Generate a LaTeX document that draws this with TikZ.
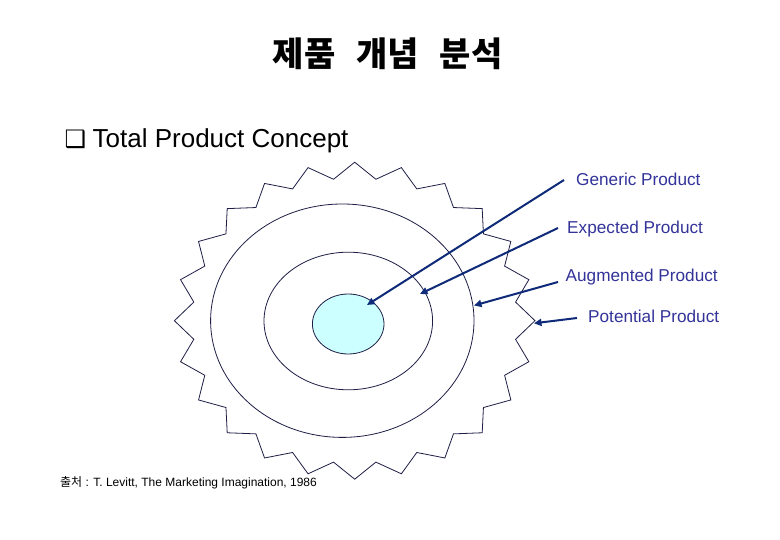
\documentclass[tikz,border=0pt]{standalone}
\usepackage{fontspec}
\setmainfont{Liberation Sans}
\newfontfamily\kr{Noto Sans CJK KR}
\newfontfamily\dejavu{DejaVu Sans}
\usetikzlibrary{arrows.meta}
\definecolor{linec}{RGB}{30,30,70}
\definecolor{arrowc}{RGB}{14,42,120}
\definecolor{labelc}{RGB}{51,51,153}
\definecolor{corefill}{RGB}{204,255,255}
\tikzset{
  thinline/.style={draw=linec, line width=0.8pt},
  pointer/.style={draw=arrowc, line width=2pt, -{Triangle[length=7.5pt,width=7pt]}},
  label/.style={text=labelc, font=\fontsize{17.2}{19}\selectfont, inner sep=0pt, anchor=base west},
}
\begin{document}
\begin{tikzpicture}[x=1pt,y=-1pt]
\useasboundingbox[fill=white] (0,0) rectangle (780,540);
% title
\node[inner sep=0pt, font=\kr\bfseries\fontsize{34}{37}\selectfont] (title) at (387.7,54.2)
  {제품\hspace{21pt}개념\hspace{21pt}분석};
% bullet heading
\node[inner sep=0pt, font=\dejavu\fontsize{24}{26}\selectfont] (bullet) at (75.5,139.5) {❑};
\node[inner sep=0pt, anchor=base west, font=\fontsize{26}{29}\selectfont] (heading) at (92.5,148) {Total Product Concept};
% star
\def\cx{354.7}\def\cy{320.7}\def\rx{180.3}\def\ry{158.5}
\draw[thinline] (\cx,{\cy-\ry})
  \foreach \k in {0,...,23} {
    -- ({\cx+0.9*\rx*sin(\k*15+7.5)},{\cy-0.9*\ry*cos(\k*15+7.5)})
    -- ({\cx+\rx*sin(\k*15+15)},{\cy-\ry*cos(\k*15+15)})
  } -- cycle;
% ellipses
\draw[thinline] (342.3,320.7) ellipse [x radius=131.7, y radius=116.7];
\draw[thinline] (348.3,321) ellipse [x radius=84.3, y radius=68.8];
\draw[thinline, fill=corefill] (348.2,324) ellipse [x radius=35.8, y radius=30];
% labels
\node[label] (generic) at (576,185.5) {Generic Product};
\node[label] (expected) at (567,233.8) {Expected Product};
\node[label] (augmented) at (565.5,281.8) {Augmented Product};
\node[label] (potential) at (588,322.8) {Potential Product};
% arrow endpoints
\coordinate (g1) at (564,180);   \coordinate (g2) at (367,305);
\coordinate (e1) at (558,228);   \coordinate (e2) at (420,294);
\coordinate (a1) at (558,282);   \coordinate (a2) at (474,305.5);
\coordinate (p1) at (577,318);   \coordinate (p2) at (534,323.3);
\draw[pointer] (g1) -- (g2);
\draw[pointer] (e1) -- (e2);
\draw[pointer] (a1) -- (a2);
\draw[pointer] (p1) -- (p2);
% source
\node[inner sep=0pt, anchor=base west, font=\fontsize{12}{14}\selectfont] (source) at (60,486)
  {{\kr 출처} : T. Levitt, The Marketing Imagination, 1986};
\end{tikzpicture}
\end{document}
